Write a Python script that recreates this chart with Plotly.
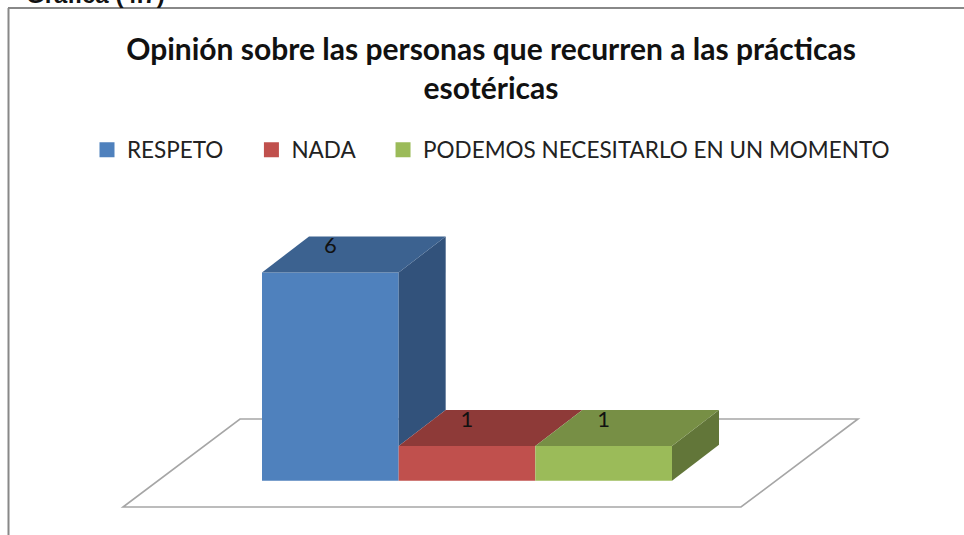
import plotly.graph_objects as go

categories = ["RESPETO", "NADA", "PODEMOS NECESITARLO EN UN MOMENTO"]
values = [6, 1, 1]
title_lines = ["Opinión sobre las personas que recurren a las prácticas", "esotéricas"]
caption = "Gráfica (4.7)"
front_colors = ["#4F81BD", "#C0504D", "#9BBB59"]
top_colors = ["#3C6290", "#8E3A38", "#778F45"]
side_colors = ["#32527B", "#7A3230", "#627639"]

W, H = 964, 535
X0, XU = 330.33, 136.67
Y0, YU = 480.7, 34.7
DX, DY = 47 / XU, 36 / YU
HALF = 0.5
FONT = "Lato"

def ux(px):
    return (px - X0) / XU

def uy(py):
    return (Y0 - py) / YU

fig = go.Figure()

for i, (cat, v) in enumerate(zip(categories, values)):
    fig.add_trace(go.Bar(x=[i], y=[v], width=1, marker=dict(color=front_colors[i], line=dict(width=0)),
                         showlegend=False, hoverinfo="skip"))

for i, v in enumerate(values):
    r = i + HALF
    b = values[i + 1] if i + 1 < len(values) else 0
    fig.add_trace(go.Scatter(x=[r, r + DX, r + DX, r, r], y=[b, b + DY, v + DY, v, b], mode="lines", fill="toself",
                             fillcolor=side_colors[i], line=dict(width=0), showlegend=False, hoverinfo="skip"))
for i, v in enumerate(values):
    l, r = i - HALF, i + HALF
    fig.add_trace(go.Scatter(x=[l, l + DX, r + DX, r, l], y=[v, v + DY, v + DY, v, v], mode="lines", fill="toself",
                             fillcolor=top_colors[i], line=dict(width=0), showlegend=False, hoverinfo="skip"))

fig.add_trace(go.Scatter(x=list(range(len(values))), y=[v + 0.72 for v in values], mode="text",
                         text=[str(v) for v in values], textposition="middle center",
                         textfont=dict(family=FONT, size=22, color="#111111"), showlegend=False, hoverinfo="skip"))

for i, cat in enumerate(categories):
    pad = "\u00a0" * 4 if i < 2 else ""
    fig.add_trace(go.Scatter(x=[None], y=[None], mode="markers", name=cat + pad,
                             marker=dict(symbol="square", size=15, color=front_colors[i])))

floor = [(123, 507), (741, 507), (858, 419), (240, 419), (123, 507)]
path = "M " + " L ".join(f"{ux(a)},{uy(b)}" for a, b in floor) + " Z"
shapes = [
    dict(type="path", path=path, xref="x", yref="y", layer="below", line=dict(color="#A6A6A6", width=1.6)),
    dict(type="line", xref="paper", yref="paper", x0=8.5 / W, x1=8.5 / W, y0=0, y1=1 - 8 / H,
         line=dict(color="#888888", width=2)),
    dict(type="line", xref="paper", yref="paper", x0=8 / W, x1=1, y0=1 - 8 / H, y1=1 - 8 / H,
         line=dict(color="#888888", width=2)),
]

fig.update_layout(
    width=W, height=H, margin=dict(l=0, r=0, t=0, b=0), autosize=False,
    paper_bgcolor="white", plot_bgcolor="white", barmode="overlay",
    xaxis=dict(range=[ux(0), ux(W)], visible=False, fixedrange=True),
    yaxis=dict(range=[uy(H), uy(0)], visible=False, fixedrange=True),
    title=dict(text="<br>".join(title_lines), x=491 / W, xanchor="center", y=1 - 60 / H, yanchor="top",
               font=dict(family=FONT, size=30, color="#111111", weight="bold")),
    legend=dict(orientation="h", x=87 / W, xanchor="left", y=1 - 150 / H, yanchor="middle",
                font=dict(family=FONT, size=22.5, color="#222222"), bgcolor="rgba(0,0,0,0)"),
    shapes=shapes,
    annotations=[dict(text=caption, xref="paper", yref="paper", x=24 / W, y=1 - 10 / H, xanchor="left", yanchor="bottom",
                      showarrow=False, font=dict(family="Liberation Sans", size=24, color="#111111", weight="bold"))],
)

fig.write_html("out.html", config={"displayModeBar": False},
               post_script="document.body.style.margin='0';document.body.style.overflow='hidden';")
